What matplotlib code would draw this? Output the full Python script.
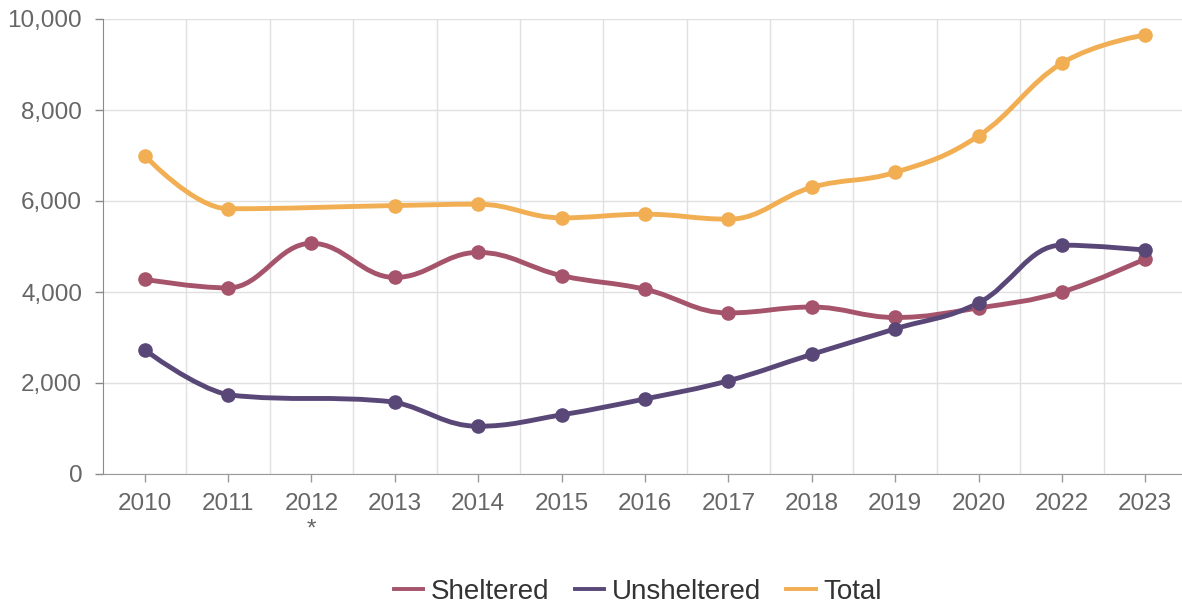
import matplotlib

matplotlib.use("agg")
from matplotlib import pyplot as plt
from matplotlib.path import Path
from matplotlib.patches import PathPatch
from matplotlib.lines import Line2D
from matplotlib.ticker import FuncFormatter
import numpy as np

years = ["2010", "2011", "2012\n*", "2013", "2014", "2015", "2016",
         "2017", "2018", "2019", "2020", "2022", "2023"]
sheltered = [4280, 4090, 5070, 4320, 4870, 4360, 4060, 3540, 3670, 3440, 3650, 4000, 4730]
unsheltered = [2730, 1740, None, 1580, 1050, 1300, 1650, 2050, 2630, 3190, 3760, 5030, 4920]
total = [7000, 5830, None, 5900, 5930, 5630, 5710, 5600, 6300, 6630, 7430, 9030, 9650]

series = [
    ("Sheltered", sheltered, "#a5546b"),
    ("Unsheltered", unsheltered, "#594778"),
    ("Total", total, "#f1ae52"),
]

plt.rcParams["font.family"] = ["Liberation Sans", "DejaVu Sans"]


def spline_path(xs, ys, smoothing=1.5):
    # highcharts-style spline: control points per point, clamped at extrema
    n = len(xs)
    rc = [None] * n
    verts = [(xs[0], ys[0])]
    codes = [Path.MOVETO]
    for i in range(1, n):
        x, y = xs[i], ys[i]
        lc = (x, y)
        if i < n - 1:
            lx, ly, nx, ny = xs[i - 1], ys[i - 1], xs[i + 1], ys[i + 1]
            d = smoothing + 1
            lcx, lcy = (smoothing * x + lx) / d, (smoothing * y + ly) / d
            rcx, rcy = (smoothing * x + nx) / d, (smoothing * y + ny) / d
            corr = (rcy - lcy) * (rcx - x) / (rcx - lcx) + y - rcy
            lcy += corr
            rcy += corr
            if lcy > ly and lcy > y:
                lcy = max(ly, y)
                rcy = 2 * y - lcy
            elif lcy < ly and lcy < y:
                lcy = min(ly, y)
                rcy = 2 * y - lcy
            if rcy > ny and rcy > y:
                rcy = max(ny, y)
                lcy = 2 * y - rcy
            elif rcy < ny and rcy < y:
                rcy = min(ny, y)
                lcy = 2 * y - rcy
            lc = (lcx, lcy)
            rc[i] = (rcx, rcy)
        c1 = rc[i - 1] if rc[i - 1] is not None else (xs[i - 1], ys[i - 1])
        verts += [c1, lc, (x, y)]
        codes += [Path.CURVE4] * 3
    return Path(verts, codes)


fig = plt.figure(figsize=(11.82, 6.06), dpi=100)
ax = fig.add_axes([103 / 1182, 1 - 474 / 606, 1084 / 1182, 455 / 606])

x_all = np.arange(len(years))
handles = []
for name, vals, color in series:
    pts = [(x, v) for x, v in zip(x_all, vals) if v is not None]
    xs = [p[0] for p in pts]
    ys = [p[1] for p in pts]
    ax.add_patch(PathPatch(spline_path(xs, ys), facecolor="none", edgecolor=color,
                           lw=3.5, capstyle="round", joinstyle="round", zorder=3))
    ax.plot(xs, ys, "o", color=color, ms=10.5, mew=0, zorder=4)
    handles.append(Line2D([], [], color=color, lw=2.8, label=name))

ax.set_xlim(-0.5, 12.5)
ax.set_ylim(0, 10000)
ax.set_yticks(np.arange(0, 10001, 2000))
ax.yaxis.set_major_formatter(FuncFormatter(lambda v, p: f"{int(v):,}"))
ax.set_xticks(x_all)
ax.set_xticklabels(years)
ax.set_xticks(x_all[:-1] + 0.5, minor=True)

ax.grid(axis="y", color="#e0e0e0", lw=1)
ax.grid(axis="x", which="minor", color="#e0e0e0", lw=1)
ax.set_axisbelow(True)

for s in ["top", "right"]:
    ax.spines[s].set_visible(False)
ax.spines["left"].set_color("#8a8a8a")
ax.spines["bottom"].set_color("#9a9a9a")
ax.tick_params(axis="y", length=6, width=1, color="#8a8a8a", pad=9,
               labelsize=17.5, labelcolor="#666666")
ax.tick_params(axis="x", which="major", length=6, width=1, color="#9a9a9a", pad=8,
               labelsize=17.5, labelcolor="#666666")
ax.tick_params(axis="x", which="minor", length=0)

fig.legend(handles=handles, loc="center", bbox_to_anchor=(638 / 1182, 1 - 592 / 606),
           ncol=3, frameon=False, fontsize=20, labelcolor="#333333",
           handlelength=1.05, handletextpad=0.3, columnspacing=0.9)

fig.savefig("out.png", dpi=100)
